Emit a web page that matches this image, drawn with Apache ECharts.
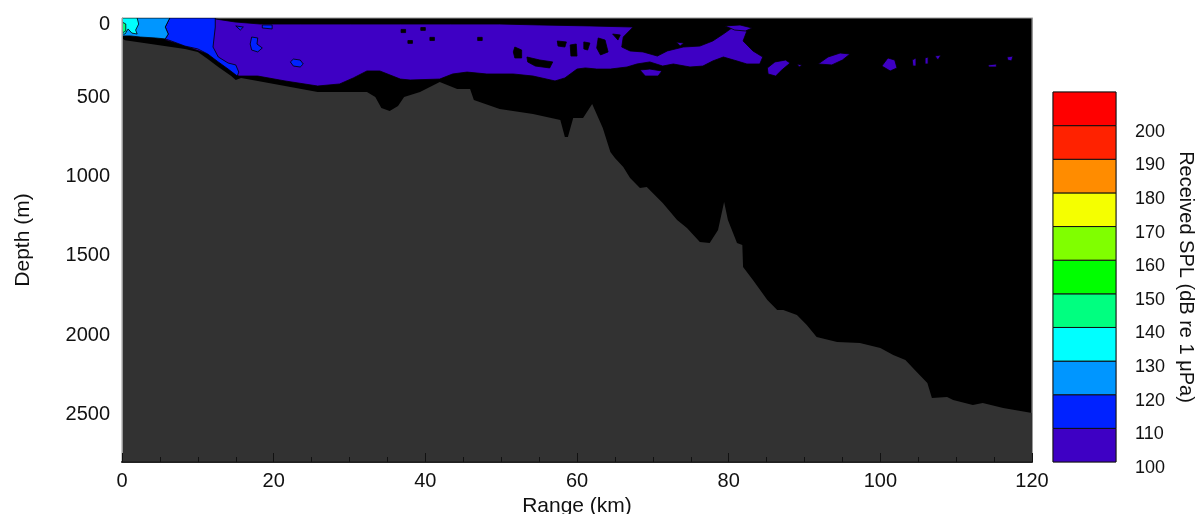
<!DOCTYPE html>
<html><head><meta charset="utf-8">
<script src="https://cdn.jsdelivr.net/npm/echarts@6/dist/echarts.min.js"></script>
<style>html,body{margin:0;padding:0;background:#fff}#c{width:1199px;height:514px}</style>
</head><body><div id="c"></div>
<script>
// Seafloor profile (range km, depth m)
const bathyRange = [0,0.4,3.8,6.5,8.3,10.0,11.3,12.7,14.4,15.0,15.7,17.9,21.5,25.8,32.3,33.4,34.2,35.3,36.4,37.2,39.3,41.9,44.2,45.9,46.4,49.8,54.2,57.8,58.4,58.8,59.5,60.8,62.0,63.4,64.4,65.0,66.1,67.0,68.3,69.2,71.3,73.2,74.5,76.2,77.5,78.6,79.4,79.9,81.1,81.8,81.9,83.2,85.1,86.4,87.2,89.0,90.3,91.6,94.3,97.3,100.0,101.7,103.3,104.8,106.2,106.8,108.8,109.6,112.2,113.5,116.2,120.0];
const bathyDepth = [130,140,164,183,195,214,259,309,366,391,378,397,429,467,467,498,568,586,555,498,467,404,448,448,517,574,605,643,750,750,631,631,542,694,845,883,940,1009,1072,1066,1167,1274,1324,1413,1419,1337,1160,1274,1419,1431,1570,1652,1778,1841,1841,1873,1936,2012,2043,2049,2081,2125,2157,2232,2302,2396,2390,2409,2440,2428,2459,2491];

// Colour scale (received SPL, dB re 1 uPa)
const splLevels = [100,110,120,130,140,150,160,170,180,190,200];
const splBandTop = [110,120,130,140,150,160,170,180,190,200,210];
const splColors = ['#3e00c4','#0022ff','#0096ff','#00ffff','#00ff80','#00ff00','#80ff00','#f5ff00','#ff8c00','#ff2200','#ff0000'];

// SPL contour regions [range km, depth m]
const purpleMain = [[5.7,0],[12.3,6],[14.9,25],[18.2,38],[23.5,38],[30.1,38],[36.7,38],[43.3,38],[49.8,38],[55.1,44],[61.7,50],[67.4,57],[66.1,120],[65.9,183],[67.0,208],[68.7,214],[70.6,240],[71.9,208],[74.0,183],[76.2,177],[77.9,145],[79.3,101],[80.6,57],[82.4,82],[81.9,145],[83.2,208],[84.5,246],[84.1,290],[82.4,290],[81.1,271],[79.3,246],[77.9,271],[76.6,303],[74.9,309],[72.7,290],[71.3,303],[69.6,277],[67.9,290],[66.6,309],[64.4,322],[62.6,322],[61.1,315],[60.0,322],[58.4,378],[57.1,397],[54.2,366],[51.6,353],[48.1,353],[45.5,341],[43.6,353],[41.9,385],[38.0,391],[36.7,385],[34.0,334],[32.3,334],[30.5,378],[28.7,416],[25.8,429],[21.5,397],[17.9,366],[15.4,366],[14.0,322],[11.3,227],[8.3,177],[5.7,139]];
const purpleP1 = [[68.3,328],[69.6,322],[71.2,334],[70.7,366],[69.0,366]];
const purpleP2 = [[85.1,315],[86.1,277],[87.5,265],[88.1,284],[87.0,328],[86.2,366],[85.2,353]];
const purpleP3 = [[91.8,290],[93.1,246],[94.7,221],[96.0,227],[95.0,265],[93.6,296]];
const purpleP4 = [[100.2,303],[101.0,252],[101.9,265],[102.2,315],[101.3,334]];
const purpleP5 = [[104.2,265],[104.7,252],[104.7,303],[104.3,303]];
const purpleP6 = [[105.9,252],[106.3,246],[106.3,290],[105.9,290]];
const purpleP7 = [[107.2,240],[108.0,233],[107.6,265]];
const purpleP8 = [[114.2,296],[115.3,290],[115.3,309],[114.3,309]];
const purpleP9 = [[116.7,246],[117.5,240],[117.3,271],[116.8,265]];
const purpleP10 = [[89.0,290],[89.7,296],[89.3,309]];
const purpleP11 = [[73.1,151],[74.1,158],[73.6,177]];
const purpleP12 = [[79.5,50],[81.5,44],[83.1,63],[82.2,82],[80.8,76]];
const quietH1 = [[51.8,183],[52.7,202],[52.7,252],[51.8,252],[51.6,214]];
const quietH2 = [[53.4,246],[55.1,265],[56.8,277],[56.4,315],[54.5,303],[53.5,277]];
const quietH3 = [[59.1,170],[59.9,164],[60.0,240],[59.2,240]];
const quietH4 = [[57.4,145],[58.6,151],[58.4,183],[57.5,177]];
const quietH5 = [[60.9,151],[61.7,158],[61.4,202],[60.9,195]];
const quietH6 = [[62.8,126],[63.7,139],[64.1,214],[63.1,233],[62.6,189]];
const quietH7 = [[64.7,101],[65.7,107],[65.4,139]];
const quietD1 = [[36.8,72],[37.4,72],[37.4,92],[36.8,92]];
const quietD2 = [[39.4,60],[40.0,60],[40.0,78],[39.4,78]];
const quietD3 = [[37.7,142],[38.3,142],[38.3,160],[37.7,160]];
const quietD4 = [[40.6,122],[41.2,122],[41.2,142],[40.6,142]];
const quietD5 = [[46.9,122],[47.5,122],[47.5,142],[46.9,142]];
const blueMain = [[6.3,0],[12.3,0],[12.3,57],[12.0,183],[12.7,246],[14.0,284],[15.0,296],[15.4,341],[15.2,366],[14.0,322],[12.7,277],[11.3,227],[10.0,195],[8.3,177],[6.5,145],[5.7,132],[6.1,101],[5.7,57],[6.1,19]];
const blueB1 = [[17.1,120],[17.9,126],[17.8,164],[18.5,189],[17.9,214],[17.1,202],[16.9,164]];
const blueB2 = [[22.6,259],[23.5,265],[23.9,290],[23.5,309],[22.6,303],[22.2,277]];
const blueB3 = [[18.5,44],[19.8,44],[19.8,69],[18.5,63]];
const blueB4 = [[15.0,50],[16.0,57],[15.6,76]];
const lightBlue = [[1.7,0],[6.3,0],[6.1,19],[5.7,57],[6.1,101],[5.7,132],[4.4,126],[2.4,120],[1.1,113],[0,113],[0,76]];
const cyanZone = [[0,0],[2.0,0],[2.2,38],[1.8,76],[2.0,101],[1.3,95],[0.8,69],[0.4,101],[0,101]];
const greenZone = [[0,25],[0.5,38],[0.5,82],[0,95]];

const zones = [
  {level:100, pts:purpleMain},{level:100, pts:purpleP1},{level:100, pts:purpleP2},{level:100, pts:purpleP3},
  {level:100, pts:purpleP4},{level:100, pts:purpleP5},{level:100, pts:purpleP6},{level:100, pts:purpleP7},
  {level:100, pts:purpleP8},{level:100, pts:purpleP9},{level:100, pts:purpleP10},{level:100, pts:purpleP11},{level:100, pts:purpleP12},
  {level:null, pts:quietH1},{level:null, pts:quietH2},{level:null, pts:quietH3},{level:null, pts:quietH4},
  {level:null, pts:quietH5},{level:null, pts:quietH6},{level:null, pts:quietH7},
  {level:null, pts:quietD1},{level:null, pts:quietD2},{level:null, pts:quietD3},{level:null, pts:quietD4},{level:null, pts:quietD5},
  {level:110, pts:blueMain},{level:110, pts:blueB1},{level:110, pts:blueB2},{level:110, pts:blueB3},{level:110, pts:blueB4},
  {level:120, pts:lightBlue},{level:130, pts:cyanZone},{level:140, pts:greenZone}
];
function colorFor(level){ if(level===null) return '#000'; return splColors[splLevels.indexOf(level)]; }

const FONT = '"Liberation Sans", Arial, sans-serif';
const chart = echarts.init(document.getElementById('c'), null, {renderer:'canvas'});
chart.setOption({
  backgroundColor:'#fff',
  animation:false,
  textStyle:{fontFamily:FONT, color:'#111'},
  grid:[
    {left:122, top:18, width:910, height:444, show:true, backgroundColor:'#000', borderColor:'#999', borderWidth:1, containLabel:false, outerBoundsMode:'none'},
    {left:1053, top:92, width:63, height:370, show:true, backgroundColor:'transparent', borderColor:'#888', borderWidth:1, containLabel:false, outerBoundsMode:'none'}
  ],
  xAxis:[
    {gridIndex:0, type:'value', min:0, max:120, interval:20, z:10, position:'bottom',
     name:'Range (km)', nameLocation:'middle', nameGap:32, nameTextStyle:{fontSize:21, fontFamily:FONT, color:'#111'},
     axisLine:{show:true, onZero:false, lineStyle:{color:'#222', width:2}},
     axisTick:{show:true, inside:true, length:9, lineStyle:{color:'#111', width:1}},
     minorTick:{show:true, splitNumber:4, length:5, lineStyle:{color:'#111', width:1}},
     axisLabel:{fontSize:20, margin:9, color:'#111', fontFamily:FONT},
     splitLine:{show:false}, minorSplitLine:{show:false}},
    {gridIndex:1, type:'value', min:0, max:1, show:false}
  ],
  yAxis:[
    {gridIndex:0, type:'value', min:0, max:2800, interval:500, inverse:true, z:10, position:'left',
     name:'Depth (m)', nameLocation:'middle', nameGap:88, nameRotate:90, nameTextStyle:{fontSize:21, fontFamily:FONT, color:'#111'},
     axisLine:{show:true, onZero:false, lineStyle:{color:'#999', width:1}},
     axisTick:{show:false},
     axisLabel:{fontSize:20, margin:12, color:'#111', fontFamily:FONT, showMaxLabel:false,
       formatter:function(v){ if(v % 500 !== 0) return ''; return v===0 ? '{z|0}' : String(v); },
       rich:{z:{fontSize:20, padding:[12,0,0,0], fontFamily:FONT, color:'#111'}}},
     splitLine:{show:false}},
    {gridIndex:1, type:'value', min:100, max:210, interval:10, position:'right',
     name:'Received SPL (dB re 1 μPa)', nameLocation:'middle', nameGap:60, nameRotate:-90,
     nameTextStyle:{fontSize:20, fontFamily:FONT, color:'#111'},
     axisLine:{show:false}, axisTick:{show:false}, splitLine:{show:false},
     axisLabel:{margin:19, color:'#111', fontFamily:FONT,
       formatter:function(v){ return v>=210 ? '' : '{a|'+v+'}'; },
       rich:{a:{fontSize:18, padding:[12,0,0,0], fontFamily:FONT, color:'#111'}}}},
    {gridIndex:0, type:'value', min:0, max:2800, inverse:true, position:'right', z:10,
     axisLine:{show:true, onZero:false, lineStyle:{color:'#999', width:1}}, axisTick:{show:false}, axisLabel:{show:false}, splitLine:{show:false}}
  ],
  series:[
    {type:'custom', xAxisIndex:0, yAxisIndex:0, z:2, clip:true,
     data: zones.map(function(z){ return [z.pts[0][0], z.pts[0][1]]; }),
     encode:{x:0, y:1},
     renderItem:function(params, api){
       const z = zones[params.dataIndex];
       const pts = z.pts.map(function(p){ return api.coord(p); });
       return {type:'polygon', shape:{points:pts}, style:{fill:colorFor(z.level), stroke:'#000', lineWidth:0.8}};
     }},
    {type:'line', xAxisIndex:0, yAxisIndex:0, z:3, showSymbol:false, symbol:'none',
     data: bathyRange.map(function(r,i){ return [r, bathyDepth[i]]; }),
     lineStyle:{width:0, color:'#323232'},
     areaStyle:{color:'#323232', opacity:1, origin:'end'}},
    {type:'custom', xAxisIndex:1, yAxisIndex:1, z:2,
     data: splLevels.map(function(l,i){ return [0, l, splBandTop[i]]; }),
     encode:{x:0, y:1},
     renderItem:function(params, api){
       const i = params.dataIndex;
       const p0 = api.coord([0, splLevels[i]]);
       const p1 = api.coord([1, splBandTop[i]]);
       return {type:'rect', shape:{x:p0[0], y:p1[1], width:p1[0]-p0[0], height:p0[1]-p1[1]},
               style:{fill:splColors[i], stroke:'#111', lineWidth:1}};
     }}
  ]
});
</script></body></html>
